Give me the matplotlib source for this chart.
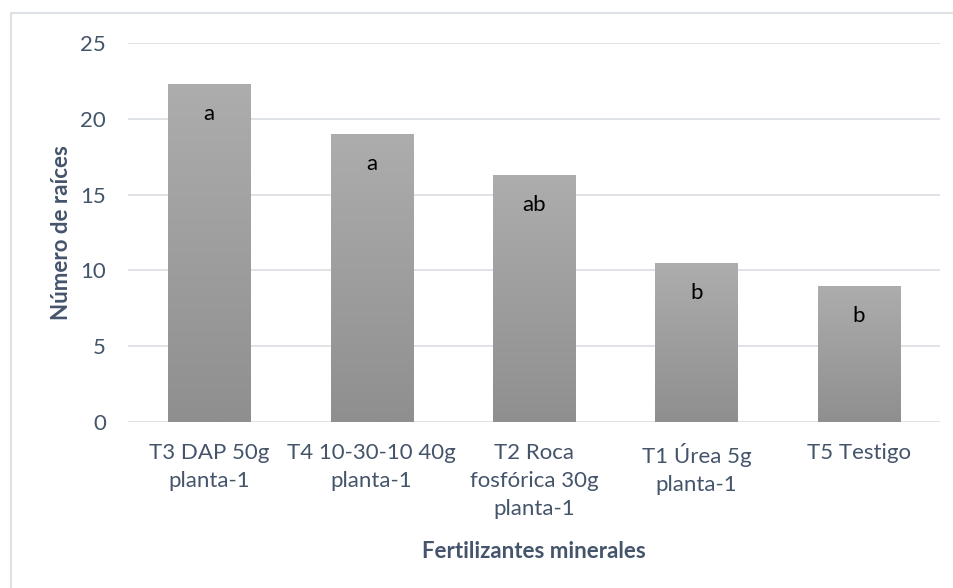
import matplotlib.pyplot as plt
import matplotlib.patches as mpatches
import numpy as np

# data
tratamientos = ['T3 DAP 50g\nplanta-1', 'T4 10-30-10 40g\nplanta-1',
                'T2 Roca\nfosfórica 30g\nplanta-1', 'T1 Úrea 5g\nplanta-1', 'T5 Testigo']
raices = [22.3, 19.0, 16.3, 10.5, 9.0]
letras = ['a', 'a', 'ab', 'b', 'b']

plt.rcParams['font.family'] = ['Lato', 'DejaVu Sans']
txt = '#44546a'

fig = plt.figure(figsize=(9.54, 5.88), dpi=100)
ax = fig.add_axes([128 / 954, 1 - 422 / 588, 812 / 954, 379 / 588])

x = np.arange(len(raices))
bars = ax.bar(x, raices, width=0.505, color='none', zorder=2)

# vertical gray gradient in each bar, lighter at the top
grad = np.linspace(0, 1, 256).reshape(-1, 1)
cmap = plt.matplotlib.colors.LinearSegmentedColormap.from_list('g', ['#8f8f8f', '#adadad'])
for b in bars:
    x0, w, h = b.get_x(), b.get_width(), b.get_height()
    im = ax.imshow(grad, cmap=cmap, origin='lower', aspect='auto',
                   extent=(x0, x0 + w, 0, h), zorder=2)
    im.set_clip_path(mpatches.Rectangle((x0, 0), w, h, transform=ax.transData))

for xi, v, l in zip(x, raices, letras):
    ax.text(xi, v - 2.0, l, ha='center', va='center', fontsize=16, color='black', zorder=3)

ax.set_xlim(-0.5, len(raices) - 0.5)
ax.set_ylim(0, 25)
ax.set_yticks(range(0, 26, 5))
ax.set_xticks(x)
ax.set_xticklabels(tratamientos, fontsize=16, color=txt, linespacing=1.5)
ax.tick_params(axis='y', labelsize=16, labelcolor=txt, length=0, pad=16)
ax.tick_params(axis='x', length=0, pad=15)
ax.grid(axis='y', color='#d9dde3', linewidth=1.2, zorder=0)
ax.set_axisbelow(True)
for s in ax.spines.values():
    s.set_visible(False)

fig.text(62 / 954, 1 - 233 / 588, 'Número de raíces', fontsize=16, fontweight='bold',
         color=txt, rotation=90, ha='center', va='center')
fig.text(534 / 954, 1 - 551 / 588, 'Fertilizantes minerales', fontsize=16,
         fontweight='bold', color=txt, ha='center', va='center')

# light outer frame of the chart area, cut at the right and bottom edges
fig.patches.append(mpatches.Rectangle((11 / 954, -0.1), 1.2, 1 - 13 / 588 + 0.1,
                                      transform=fig.transFigure, fill=False,
                                      edgecolor='#dde2e8', linewidth=1.5))

fig.savefig('out.png', dpi=100)
